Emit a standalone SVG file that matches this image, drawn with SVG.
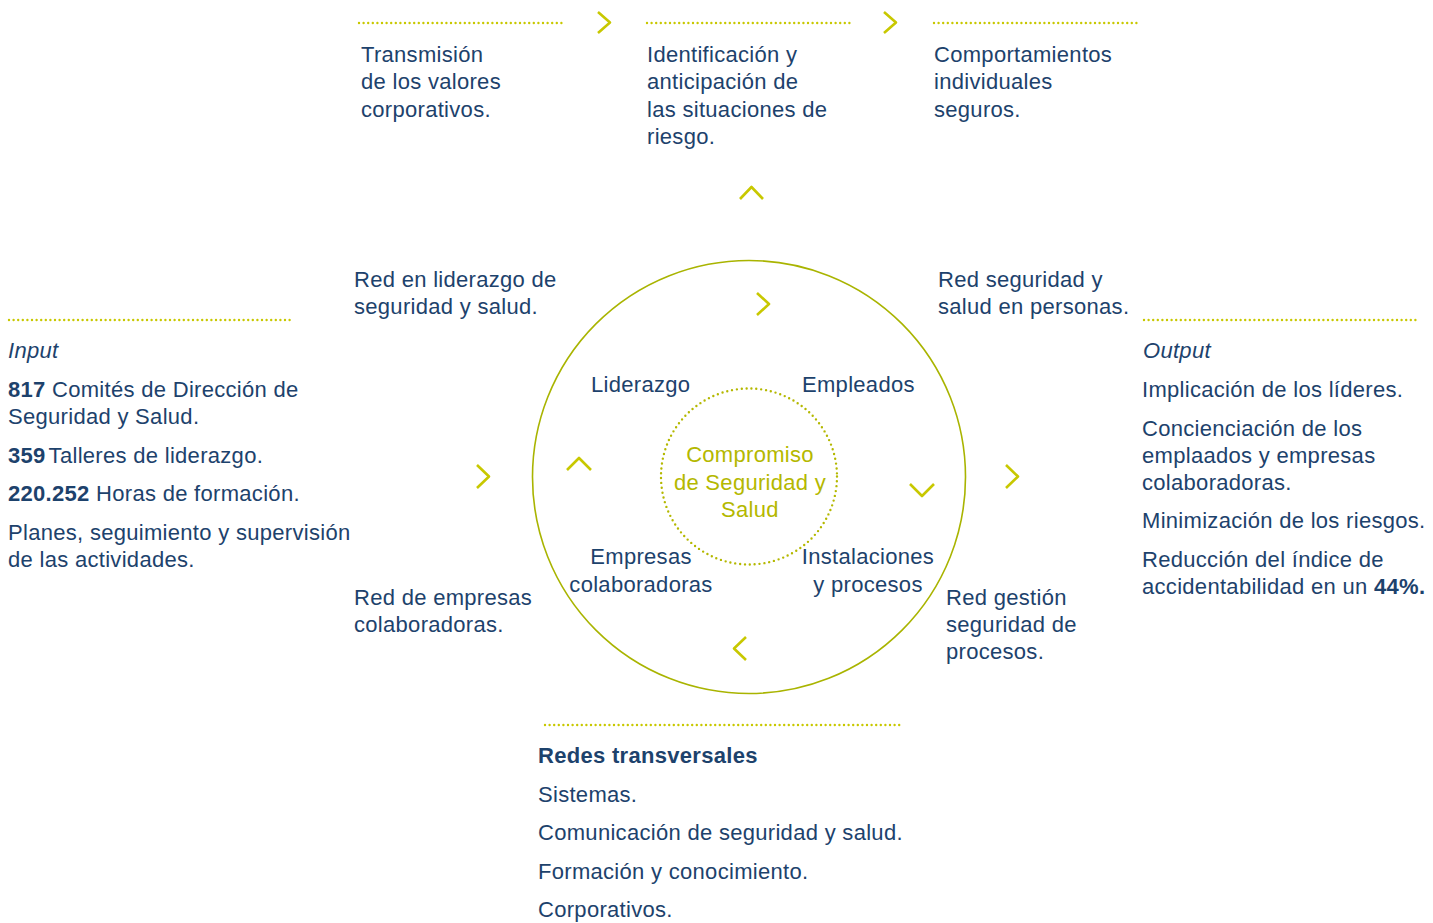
<svg xmlns="http://www.w3.org/2000/svg" width="1433" height="923" viewBox="0 0 1433 923">
<style>
text{font-family:"Liberation Sans",Arial,sans-serif;font-size:22px;letter-spacing:0.3px;fill:#1d426c}
.b{font-weight:bold}
.i{font-style:italic}
.g{fill:#b4b800}
.c{text-anchor:middle}
.dot{stroke:#c8c800;stroke-width:2.4;stroke-linecap:round;stroke-dasharray:0 4.6;fill:none}
.chev{stroke:#c8c800;stroke-width:2.6;fill:none;stroke-linejoin:round;stroke-linecap:butt}
</style>
<rect width="1433" height="923" fill="#fff"/>
<g id="connectors">
<line class="dot" x1="359" y1="23" x2="562" y2="23"/>
<line class="dot" x1="647" y1="23" x2="850" y2="23"/>
<line class="dot" x1="934" y1="23" x2="1137" y2="23"/>
<line class="dot" x1="9" y1="320" x2="293" y2="320"/>
<line class="dot" x1="1144" y1="320" x2="1418" y2="320"/>
<line class="dot" x1="545" y1="725" x2="900" y2="725"/>
<path class="chev" d="M598,12 L610,22.5 L598,33"/>
<path class="chev" d="M884,12 L896,22.5 L884,33"/>
<path class="chev" d="M740,199 L751.5,187 L763,199"/>
<path class="chev" d="M757,293 L769,304 L757,315"/>
<path class="chev" d="M477,465 L489,476.5 L477,488"/>
<path class="chev" d="M567,470 L579,458 L591,470"/>
<path class="chev" d="M910,484 L922,496 L934,484"/>
<path class="chev" d="M1006,465 L1018,476.5 L1006,488"/>
<path class="chev" d="M746,637 L734,648.5 L746,660"/>
</g>
<g id="outer-circle"><circle cx="749" cy="477" r="216.5" fill="none" stroke="#a9b400" stroke-width="1.6"/></g>
<g id="center">
<circle cx="749" cy="476.5" r="88" fill="none" stroke="#b4b800" stroke-width="2.4" stroke-linecap="round" stroke-dasharray="0 4.9"/>
<text class="g c" x="750" y="462">Compromiso</text>
<text class="g c" x="750" y="490">de Seguridad y</text>
<text class="g c" x="750" y="517">Salud</text>
</g>
<g id="step1"><text x="361" y="62">Transmisión</text><text x="361" y="89">de los valores</text><text x="361" y="117">corporativos.</text></g>
<g id="step2"><text x="647" y="62">Identificación y</text><text x="647" y="89">anticipación de</text><text x="647" y="117">las situaciones de</text><text x="647" y="144">riesgo.</text></g>
<g id="step3"><text x="934" y="62">Comportamientos</text><text x="934" y="89">individuales</text><text x="934" y="117">seguros.</text></g>
<g id="red-liderazgo"><text x="354" y="287">Red en liderazgo de</text><text x="354" y="314">seguridad y salud.</text></g>
<g id="red-personas"><text x="938" y="287">Red seguridad y</text><text x="938" y="314">salud en personas.</text></g>
<g id="red-empresas"><text x="354" y="605">Red de empresas</text><text x="354" y="632">colaboradoras.</text></g>
<g id="red-procesos"><text x="946" y="605">Red gestión</text><text x="946" y="632">seguridad de</text><text x="946" y="659">procesos.</text></g>
<g id="liderazgo"><text x="591" y="392">Liderazgo</text></g>
<g id="empleados"><text x="802" y="392">Empleados</text></g>
<g id="empresas"><text class="c" x="641" y="564">Empresas</text><text class="c" x="641" y="592">colaboradoras</text></g>
<g id="instalaciones"><text class="c" x="868" y="564">Instalaciones</text><text class="c" x="868" y="592">y procesos</text></g>
<g id="input">
<text class="i" x="8" y="358">Input</text>
<text x="8" y="397"><tspan class="b">817</tspan> Comités de Dirección de</text>
<text x="8" y="424">Seguridad y Salud.</text>
<text x="8" y="463"><tspan class="b">359</tspan><tspan dx="3">Talleres de liderazgo.</tspan></text>
<text x="8" y="501"><tspan class="b">220.252</tspan> Horas de formación.</text>
<text x="8" y="540">Planes, seguimiento y supervisión</text>
<text x="8" y="567">de las actividades.</text>
</g>
<g id="output">
<text class="i" x="1143" y="358">Output</text>
<text x="1142" y="397">Implicación de los líderes.</text>
<text x="1142" y="436">Concienciación de los</text>
<text x="1142" y="463">emplaados y empresas</text>
<text x="1142" y="490">colaboradoras.</text>
<text x="1142" y="528">Minimización de los riesgos.</text>
<text x="1142" y="567">Reducción del índice de</text>
<text x="1142" y="594">accidentabilidad en un <tspan class="b">44%.</tspan></text>
</g>
<g id="redes">
<text x="538" y="763" style="font-weight:bold">Redes transversales</text>
<text x="538" y="802">Sistemas.</text>
<text x="538" y="840">Comunicación de seguridad y salud.</text>
<text x="538" y="879">Formación y conocimiento.</text>
<text x="538" y="917">Corporativos.</text>
</g>
</svg>
